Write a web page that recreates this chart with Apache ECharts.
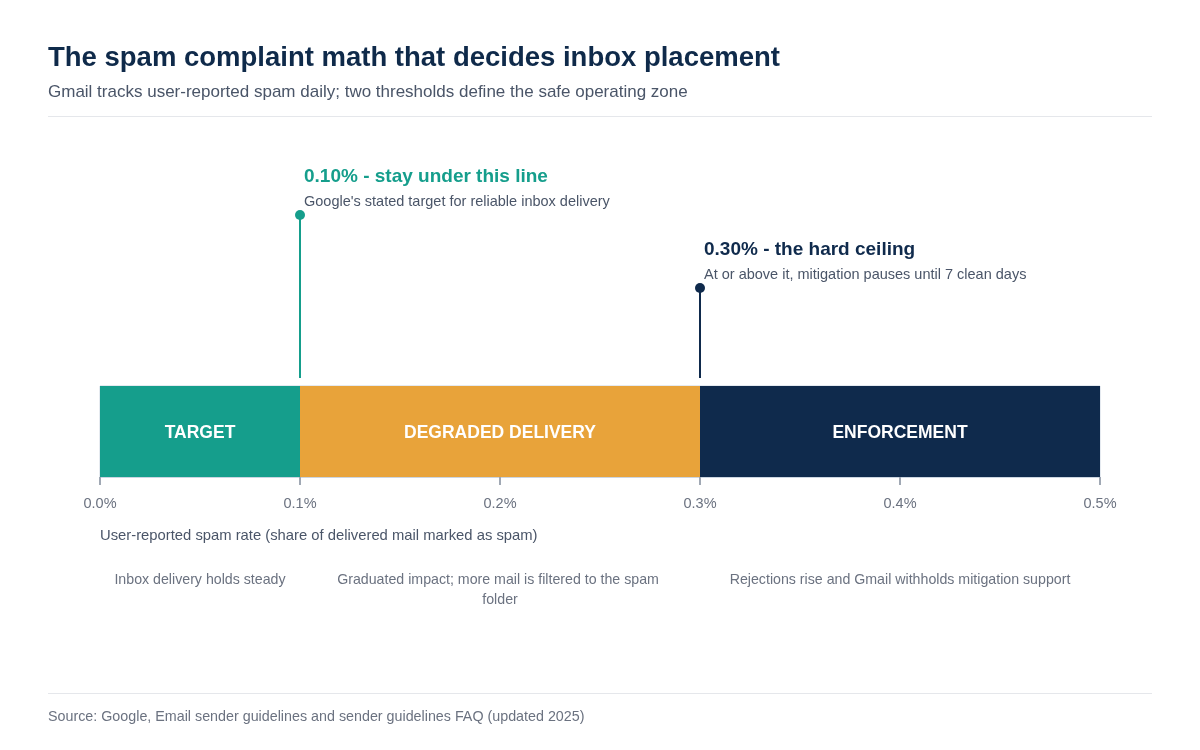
<!DOCTYPE html>
<html>
<head>
<meta charset="utf-8">
<script src="https://cdn.jsdelivr.net/npm/echarts@6/dist/echarts.min.js"></script>
<style>
  html, body { margin: 0; padding: 0; background: #ffffff; }
  #chart { width: 1200px; height: 750px; }
</style>
</head>
<body>
<div id="chart"></div>
<script>
// ---- data ----
const titleText = 'The spam complaint math that decides inbox placement';
const subtitleText = 'Gmail tracks user-reported spam daily; two thresholds define the safe operating zone';
const sourceText = 'Source: Google, Email sender guidelines and sender guidelines FAQ (updated 2025)';
const axisName = 'User-reported spam rate (share of delivered mail marked as spam)';

const zoneNames = ['TARGET', 'DEGRADED DELIVERY', 'ENFORCEMENT'];
const zoneStarts = [0.0, 0.1, 0.3];
const zoneEnds = [0.1, 0.3, 0.5];
const zoneNotes = [
  'Inbox delivery holds steady',
  'Graduated impact; more mail is filtered to the spam folder',
  'Rejections rise and Gmail withholds mitigation support'
];

const thresholdValues = [0.1, 0.3];
const thresholdTitles = ['0.10% - stay under this line', '0.30% - the hard ceiling'];
const thresholdNotes = [
  "Google's stated target for reliable inbox delivery",
  'At or above it, mitigation pauses until 7 clean days'
];
const pinHeights = [0.685, 0.378];

const axisMin = 0.0, axisMax = 0.5, axisStep = 0.1;
const tickLabels = ['0.0%', '0.1%', '0.2%', '0.3%', '0.4%', '0.5%'];

// ---- styles ----
const FONT = '"Liberation Sans", Arial, Helvetica, sans-serif';
const zoneColors = ['#159e8c', '#e8a33a', '#0f2a4c'];
const pinColors = ['#159e8c', '#0f2a4c'];
const noteWidths = [360, 340, 390];

const chart = echarts.init(document.getElementById('chart'), null, { renderer: 'canvas' });

const zoneSeries = zoneNames.map((name, i) => ({
  name: name,
  type: 'bar',
  stack: 'zones',
  xAxisIndex: 0,
  yAxisIndex: 0,
  barWidth: '100%',
  silent: true,
  itemStyle: { color: zoneColors[i] },
  label: {
    show: true,
    position: 'inside',
    offset: [0, 1.5],
    formatter: name,
    color: '#ffffff',
    fontFamily: FONT,
    fontSize: 17.5,
    fontWeight: 'bold'
  },
  data: [+(zoneEnds[i] - zoneStarts[i]).toFixed(4)]
}));

const noteSeries = zoneNotes.map((note, i) => ({
  name: 'note' + i,
  type: 'bar',
  stack: 'notes',
  xAxisIndex: 2,
  yAxisIndex: 2,
  barWidth: '100%',
  silent: true,
  itemStyle: { color: 'rgba(0,0,0,0)' },
  label: {
    show: true,
    position: 'insideTop',
    distance: 0,
    formatter: note,
    width: noteWidths[i],
    overflow: 'break',
    align: 'center',
    color: '#6b7280',
    fontFamily: FONT,
    fontSize: 14.2,
    lineHeight: 20
  },
  data: [+(zoneEnds[i] - zoneStarts[i]).toFixed(4)]
}));

const pinSeries = thresholdValues.map((v, i) => ({
  name: 'pin' + i,
  type: 'line',
  xAxisIndex: 1,
  yAxisIndex: 1,
  silent: true,
  lineStyle: { color: pinColors[i], width: 2 },
  itemStyle: { color: pinColors[i] },
  symbolSize: 10,
  data: [
    { value: [v, 0], symbol: 'none' },
    {
      value: [v, pinHeights[i]],
      symbol: 'circle',
      label: {
        show: true,
        position: 'top',
        distance: 5,
        align: 'left',
        offset: [4, 9],
        formatter: '{t|' + thresholdTitles[i] + '}\n{s|' + thresholdNotes[i] + '}',
        rich: {
          t: { fontFamily: FONT, fontSize: 19, fontWeight: 'bold', color: pinColors[i], lineHeight: 26 },
          s: { fontFamily: FONT, fontSize: 14.5, color: '#4a5568', lineHeight: 24 }
        }
      }
    }
  ]
}));

const hiddenX = (idx) => ({
  type: 'value', gridIndex: idx, min: axisMin, max: axisMax, interval: axisStep,
  show: false
});

const option = {
  animation: false,
  backgroundColor: '#ffffff',
  title: [
    {
      text: titleText,
      subtext: subtitleText,
      left: 48,
      top: 42,
      padding: 0,
      itemGap: 8,
      textStyle: { fontFamily: FONT, fontSize: 27.5, fontWeight: 'bold', color: '#0f2a4a', lineHeight: 32 },
      subtextStyle: { fontFamily: FONT, fontSize: 17, color: '#4a5568', lineHeight: 20 }
    },
    {
      text: sourceText,
      left: 48,
      top: 708,
      padding: 0,
      textStyle: { fontFamily: FONT, fontSize: 14.3, fontWeight: 'normal', color: '#6b7280', lineHeight: 18 }
    }
  ],
  graphic: [
    { type: 'line', silent: true, shape: { x1: 48, y1: 116.5, x2: 1152, y2: 116.5 }, style: { stroke: '#e5e7eb', lineWidth: 1 } },
    { type: 'line', silent: true, shape: { x1: 48, y1: 693.5, x2: 1152, y2: 693.5 }, style: { stroke: '#e5e7eb', lineWidth: 1 } }
  ],
  grid: [
    { left: 100, right: 100, top: 386, height: 91, show: true, borderColor: '#cbd5e1', borderWidth: 1, backgroundColor: 'transparent' },
    { left: 100, right: 100, top: 140, height: 238 },
    { left: 100, right: 100, top: 570, height: 50 }
  ],
  xAxis: [
    {
      type: 'value', gridIndex: 0, min: axisMin, max: axisMax, interval: axisStep,
      splitLine: { show: false },
      axisLine: { show: true, lineStyle: { color: '#cbd5e1', width: 1 } },
      axisTick: { show: true, length: 8, lineStyle: { color: '#a0a8b4', width: 2 } },
      axisLabel: {
        margin: 19, color: '#6b7280', fontFamily: FONT, fontSize: 14.5,
        formatter: (v) => tickLabels[Math.round((v - axisMin) / axisStep)]
      },
      name: axisName,
      nameLocation: 'start',
      nameGap: 0,
      nameTextStyle: {
        fontFamily: FONT, fontSize: 14.8, color: '#4a5568',
        align: 'left', verticalAlign: 'top', padding: [51, 0, 0, 0]
      }
    },
    hiddenX(1),
    hiddenX(2)
  ],
  yAxis: [
    { type: 'category', gridIndex: 0, data: ['rate'], show: false },
    { type: 'value', gridIndex: 1, min: 0, max: 1, show: false },
    { type: 'category', gridIndex: 2, data: ['rate'], show: false }
  ],
  series: [...zoneSeries, ...pinSeries, ...noteSeries]
};

chart.setOption(option);
</script>
</body>
</html>
